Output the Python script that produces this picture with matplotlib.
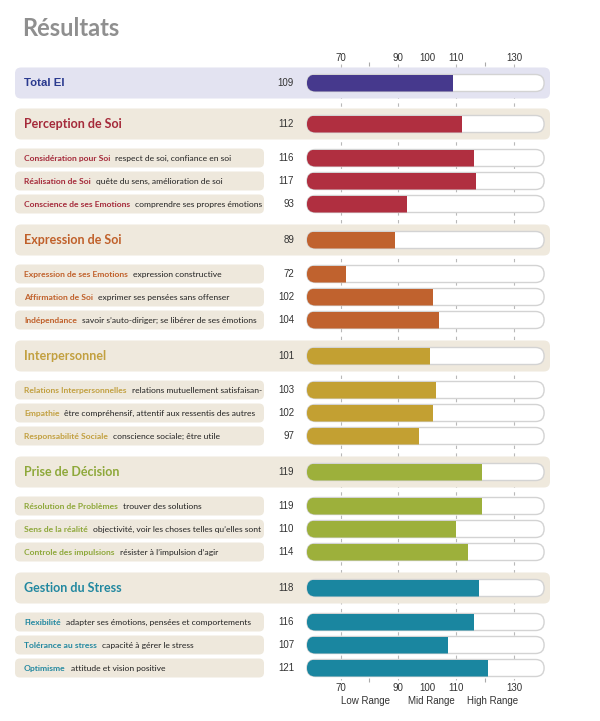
import matplotlib.pyplot as plt
import matplotlib.transforms as mtransforms
from matplotlib.patches import FancyBboxPatch

# data
total_label = "Total EI"
total_value = 109
groups = ["Perception de Soi", "Expression de Soi", "Interpersonnel",
          "Prise de Décision", "Gestion du Stress"]
group_values = [112, 89, 101, 119, 118]
sub_names = [
    ["Considération pour Soi", "Réalisation de Soi", "Conscience de ses Emotions"],
    ["Expression de ses Emotions", "Affirmation de Soi", "Indépendance"],
    ["Relations Interpersonnelles", "Empathie", "Responsabilité Sociale"],
    ["Résolution de Problèmes", "Sens de la réalité", "Controle des impulsions"],
    ["Flexibilité", "Tolérance au stress", "Optimisme"],
]
sub_descs = [
    ["respect de soi, confiance en soi", "quête du sens, amélioration de soi",
     "comprendre ses propres émotions"],
    ["expression constructive", "exprimer ses pensées sans offenser",
     "savoir s\u2019auto-diriger; se libérer de ses émotions"],
    ["relations mutuellement satisfaisan-", "être compréhensif, attentif aux ressentis des autres",
     "conscience sociale; être utile"],
    ["trouver des solutions", "objectivité, voir les choses telles qu\u2019elles sont",
     "résister à l\u2019impulsion d\u2019agir"],
    ["adapter ses émotions, pensées et comportements", "capacité à gérer le stress",
     "attitude et vision positive"],
]
sub_values = [[116, 117, 93], [72, 102, 104], [103, 102, 97], [119, 110, 114], [116, 107, 121]]
tick_values = [70, 90, 100, 110, 130]
grid_values = [70, 90, 110, 130]
minor_values = [80, 120]
range_labels = ["Low Range", "Mid Range", "High Range"]
range_pos = [78.5, 101.5, 122.5]

# styles
total_bar = "#46398d"
total_text = "#2b3a8f"
total_band = "#e3e3f1"
bar_colors = ["#b02f40", "#c0622e", "#c3a032", "#9db03b", "#1a86a0"]
text_colors = ["#a52a3a", "#c0602a", "#c2a040", "#8ea83a", "#2288a0"]
band = "#efe9dd"
box = "#eee8dc"

# layout (pixels)
W, H = 600, 721
K = 2.892            # pixels per score unit
X70 = 340.5          # pixel position of 70
LO, HI = 58.4, 140.4  # track extent in score units
def val(px):
    return 70 + (px - X70) / K

fig = plt.figure(figsize=(W / 100, H / 100), dpi=100)
ax = fig.add_axes([0, 0, 1, 1])
ax.set_xlim(0, W)
ax.set_ylim(H, 0)
ax.axis('off')
renderer = fig.canvas.get_renderer()

bx = fig.add_axes([300 / W, 0, 250 / W, 1], zorder=2)
bx.set_xlim(val(300), val(550))
bx.set_ylim(H, 0)
bx.axis('off')
bx.patch.set_alpha(0)

vt = mtransforms.blended_transform_factory(bx.transData, ax.transData)
ax.vlines(grid_values, 64, 680, transform=vt, colors='#b8b8b8', lw=0.8,
          linestyles=(0, (3, 4)), zorder=0)

num_font = dict(family='Liberation Sans', fontsize=7, color='#333333')


def draw_bar(y, v, color, h=17):
    track = FancyBboxPatch((LO, y - h / 2), HI - LO, h,
                           boxstyle="round,pad=0,rounding_size=%f" % (h / 2 / K),
                           mutation_aspect=K, fc='white', ec='#d3d3d3', lw=1.0, zorder=2)
    bx.add_patch(track)
    bars = bx.barh([y], [v - LO], left=LO, height=h, color=color, zorder=3)
    for b in bars:
        b.set_clip_path(track)


def band_box(x0, x1, y, h, color, r):
    ax.add_patch(FancyBboxPatch((x0, y - h / 2), x1 - x0, h,
                                boxstyle="round,pad=0,rounding_size=%f" % r,
                                fc=color, ec='none', zorder=1))


ax.text(22, 29, "Résultats", family='Lato', fontweight='bold', fontsize=17,
        color='#8f8f8f', va='center')

# total
y = 83
band_box(15, 550, y, 31, total_band, 6)
ax.text(24, y, total_label, family='Liberation Sans', fontweight='bold', fontsize=8.2,
        color=total_text, va='center')
ax.text(294, y, str(total_value), ha='right', va='center', **num_font)
draw_bar(y, total_value, total_bar)

for i, g in enumerate(groups):
    yh = 124 + 116 * i
    band_box(15, 550, yh, 31, band, 6)
    ax.text(24, yh, g, family='Lato', fontweight='bold', fontsize=9,
            color=text_colors[i], va='center')
    ax.text(294, yh, str(group_values[i]), ha='right', va='center', **num_font)
    draw_bar(yh, group_values[i], bar_colors[i])
    for j, off in enumerate([34, 57, 80]):
        ys = yh + off
        band_box(15, 264, ys, 19, box, 5)
        t = ax.text(24, ys + 3, sub_names[i][j], family='Lato', fontweight='bold',
                    fontsize=6.1, color=text_colors[i], va='baseline')
        wpx = t.get_window_extent(renderer).width
        ax.text(24 + wpx + 5, ys + 3, sub_descs[i][j], family='Lato', fontsize=6.1,
                color='#222222', va='baseline')
        ax.text(294, ys, str(sub_values[i][j]), ha='right', va='center', **num_font)
        draw_bar(ys, sub_values[i][j], bar_colors[i])

# scale labels
for t in tick_values:
    bx.text(t, 58, str(t), ha='center', va='center', **num_font)
    bx.text(t, 688, str(t), ha='center', va='center', **num_font)
bx.vlines(minor_values, 62, 66, colors='#aaaaaa', lw=0.8)
bx.vlines(minor_values, 678, 682, colors='#aaaaaa', lw=0.8)
for lab, p in zip(range_labels, range_pos):
    bx.text(p, 701, lab, ha='center', va='center', **num_font)

fig.savefig("out.png", dpi=100)
